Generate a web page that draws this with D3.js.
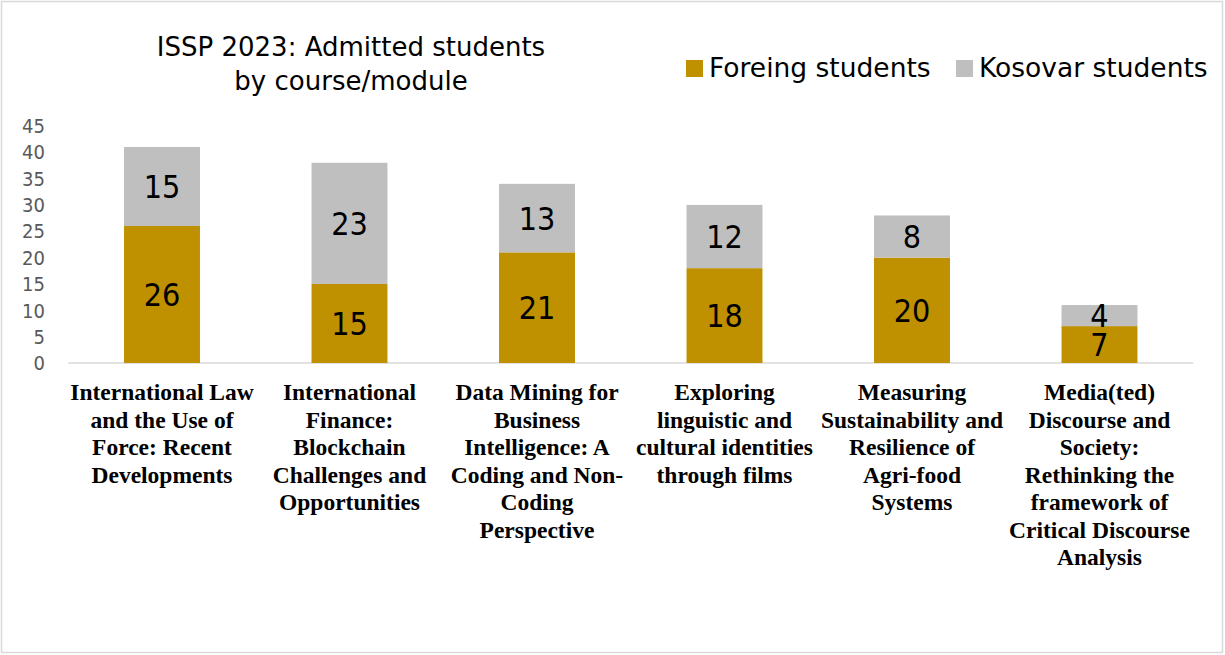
<!DOCTYPE html>
<html><head><meta charset="utf-8">
<script src="https://cdn.jsdelivr.net/npm/d3@7"></script>
<style>body{margin:0;background:#fff}svg{display:block}</style>
</head><body><svg id="c" width="1225" height="655"></svg>
<script>
const categories = [
  "International Law\nand the Use of\nForce: Recent\nDevelopments",
  "International\nFinance:\nBlockchain\nChallenges and\nOpportunities",
  "Data Mining for\nBusiness\nIntelligence: A\nCoding and Non-\nCoding\nPerspective",
  "Exploring\nlinguistic and\ncultural identities\nthrough films",
  "Measuring\nSustainability and\nResilience of\nAgri-food\nSystems",
  "Media(ted)\nDiscourse and\nSociety:\nRethinking the\nframework of\nCritical Discourse\nAnalysis"
];
const foreign = [26, 15, 21, 18, 20, 7];
const kosovar = [15, 23, 13, 12, 8, 4];
const seriesNames = ["Foreing students", "Kosovar students"];
const colors = ["#bf9000", "#bfbfbf"];
const yTicks = [0, 5, 10, 15, 20, 25, 30, 35, 40, 45];

const svg = d3.select("#c");
const F = "'DejaVu Sans Condensed', Roboto, sans-serif";
const F2 = "'DejaVu Sans', sans-serif";
svg.append("rect").attr("x",1.5).attr("y",1.5).attr("width",1221).attr("height",651)
  .attr("fill","#fff").attr("stroke","#d9d9d9").attr("stroke-width",1.5);

const x = d3.scaleBand().domain(d3.range(categories.length)).range([68.25, 1193.25]).padding(0);
const y = d3.scaleLinear().domain([0,45]).range([363, 125.9]);
const bw = x.bandwidth()*0.405;

// y tick labels
svg.append("g").selectAll("text").data(yTicks).join("text")
  .attr("x",45).attr("y",d=>y(d)).attr("dy","0.36em").attr("text-anchor","end")
  .attr("font-family",F).attr("font-size",20).attr("fill","#595959").text(d=>d);

// axis line
svg.append("line").attr("x1",x.range()[0]).attr("x2",x.range()[1]).attr("y1",y(0)).attr("y2",y(0))
  .attr("stroke","#d9d9d9").attr("stroke-width",1.5);

const stacked = d3.stack().keys([0,1]).value((d,k)=>k===0?foreign[d]:kosovar[d])(d3.range(categories.length));
const g = svg.append("g");
stacked.forEach((s,si)=>{
  g.selectAll(null).data(s).join("rect")
    .attr("x",(d,i)=>x(i)+x.bandwidth()/2-bw/2).attr("width",bw)
    .attr("y",d=>y(d[1])).attr("height",d=>y(d[0])-y(d[1]))
    .attr("fill",colors[si]);
  g.selectAll(null).data(s).join("text")
    .attr("x",(d,i)=>x(i)+x.bandwidth()/2).attr("y",d=>(y(d[0])+y(d[1]))/2)
    .attr("dy","0.36em").attr("text-anchor","middle")
    .attr("font-family",F).attr("font-size",32).attr("fill","#000")
    .text(d=>d[1]-d[0]);
});

// category labels
categories.forEach((c,i)=>{
  const t = svg.append("text").attr("text-anchor","middle")
    .attr("font-family","'Liberation Serif', 'Times New Roman', serif").attr("font-weight","bold")
    .attr("font-size",23.5).attr("fill","#000");
  c.split("\n").forEach((ln,j)=>{
    t.append("tspan").attr("x",x(i)+x.bandwidth()/2).attr("y",400+j*27.5).text(ln);
  });
});

// title
const title = svg.append("text").attr("text-anchor","middle").attr("font-family",F2)
  .attr("font-size",26).attr("fill","#000");
title.append("tspan").attr("x",351).attr("y",56).text("ISSP 2023: Admitted students");
title.append("tspan").attr("x",351).attr("y",90).text("by course/module");

// legend
const lx = [686, 956];
seriesNames.forEach((n,i)=>{
  svg.append("rect").attr("x",lx[i]).attr("y",60).attr("width",17).attr("height",17).attr("fill",colors[i]);
  svg.append("text").attr("x",lx[i]+23).attr("y",77).attr("font-family",F2).attr("font-size",26.5)
    .attr("fill","#000").text(n);
});
</script></body></html>
